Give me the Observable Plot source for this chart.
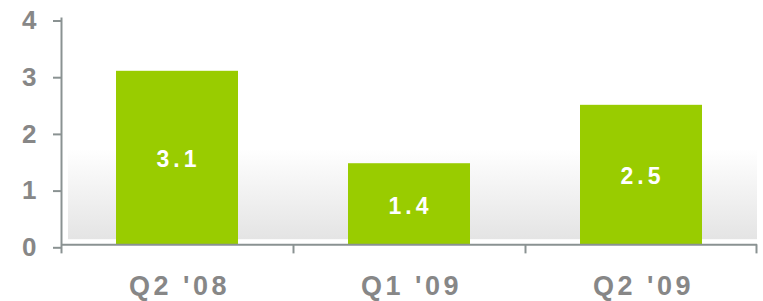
<!DOCTYPE html>
<html>
<head>
<meta charset="utf-8">
<script src="https://cdn.jsdelivr.net/npm/d3@7"></script>
<script src="https://cdn.jsdelivr.net/npm/@observablehq/plot@0.6"></script>
<style>
  html, body { margin: 0; padding: 0; background: #fff; }
  #chart svg { display: block; font-family: "Liberation Sans", Arial, sans-serif; }
  .xlab text { letter-spacing: 3.5px; }
  .ylab text { letter-spacing: 1px; }
  .barlab text { letter-spacing: 4px; }
</style>
</head>
<body>
<div id="chart"></div>
<script>
const quarters = ["Q2 '08", "Q1 '09", "Q2 '09"];
const values = [3.06, 1.43, 2.46];
const yTicks = [0, 1, 2, 3, 4];

const data = quarters.map((q, i) => ({q, v: values[i]}));
const W = 763, H = 301;
const mL = 61, mR = 6, mT = 17.5, mB = 56.7;
const step = (W - mL - mR) / quarters.length;
const axisGray = "#8a9292";

const chart = Plot.plot({
  width: W,
  height: H,
  marginLeft: mL,
  marginRight: mR,
  marginTop: mT,
  marginBottom: mB,
  x: {domain: quarters, padding: 0},
  y: {domain: [0, 4]},
  marks: [
    Plot.rectY([0], {y1: 0.09, y2: 1.68, fill: "url(#bggrad)", insetLeft: 7}),
    Plot.barY(data, {x: "q", y: "v", fill: "#99cc00", insetLeft: 55, insetRight: 55}),
    Plot.text(data, {x: "q", y: d => d.v / 2, text: d => d.v.toFixed(1), fill: "#fff",
      fontSize: 23, fontWeight: "bold", dy: 2, dx: 1, className: "barlab"}),
    Plot.ruleY([0], {stroke: axisGray, strokeWidth: 2}),
    Plot.ruleX([quarters[0]], {x: d => d, y1: -0.16, y2: 4, dx: -step / 2, stroke: axisGray, strokeWidth: 2}),
    Plot.ruleX(quarters.slice(1), {x: d => d, y1: 0, y2: -0.16, dx: -step / 2, stroke: axisGray, strokeWidth: 2}),
    Plot.ruleX([quarters[quarters.length - 1]], {x: d => d, y1: 0, y2: -0.16, dx: step / 2 - 1, stroke: axisGray, strokeWidth: 2}),
    Plot.axisY({ticks: yTicks, tickFormat: d3.format("d"), tickSize: 8, tickPadding: 16, stroke: axisGray, strokeWidth: 2,
      fill: "#878787", fontSize: 26, fontWeight: "bold", dy: 3, label: null, className: "ylab"}),
    Plot.axisX({tickSize: 0, tickPadding: 31, fill: "#878787", fontSize: 27, fontWeight: "bold",
      dx: 2, label: null, className: "xlab"})
  ]
});

const defs = d3.select(chart).insert("defs", ":first-child");
const g = defs.append("linearGradient").attr("id", "bggrad")
  .attr("x1", 0).attr("y1", 0).attr("x2", 0).attr("y2", 1);
g.append("stop").attr("offset", "0%").attr("stop-color", "#ffffff");
g.append("stop").attr("offset", "100%").attr("stop-color", "#e4e4e4");

document.getElementById("chart").appendChild(chart);
</script>
</body>
</html>
